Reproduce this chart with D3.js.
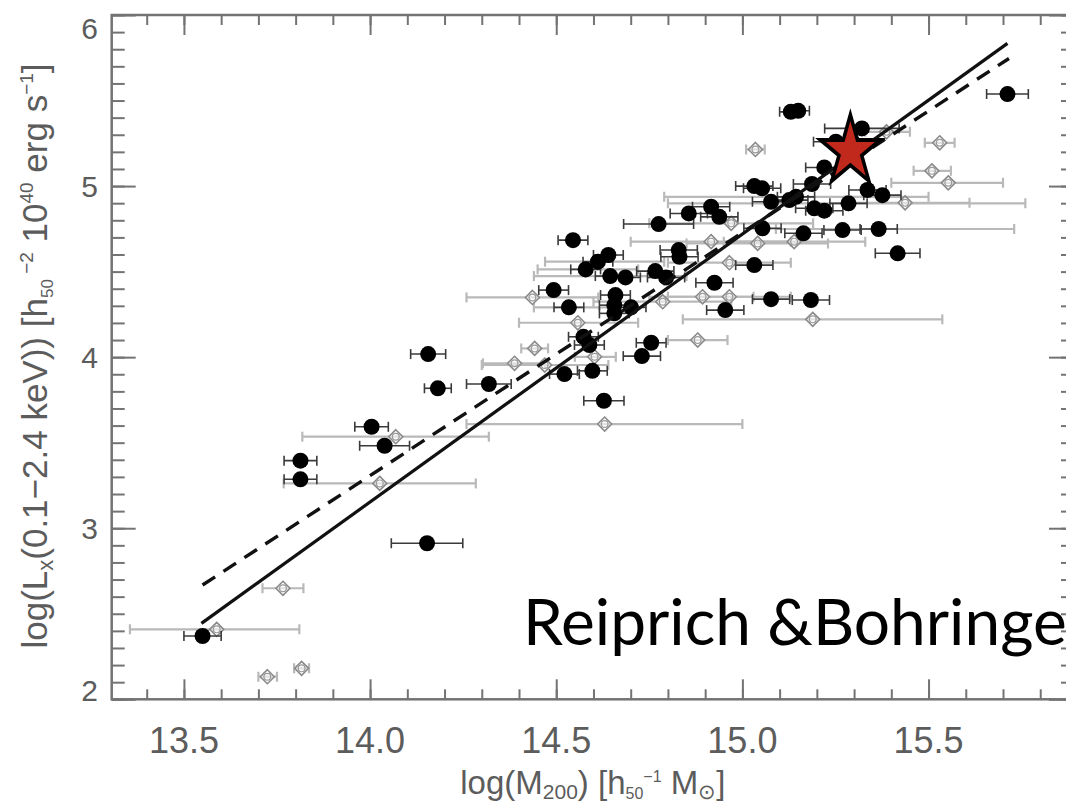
<!DOCTYPE html>
<html><head><meta charset="utf-8">
<script src="https://cdn.jsdelivr.net/npm/d3@7"></script>
<style>body{margin:0;background:#fff;overflow:hidden}svg{display:block}</style>
</head><body>
<svg id="c" width="1066" height="805"></svg>
<script>
// ---- data ----
const xTickValues = [13.5, 14.0, 14.5, 15.0, 15.5];
const yTickValues = [2, 3, 4, 5, 6];
// filled circles: [log M200, log Lx, half error in log M]
const filledSample = [
  [14.156,4.018,0.047],[14.182,3.818,0.036],[14.319,3.843,0.06],[14.004,3.593,0.045],
  [14.039,3.482,0.067],[13.813,3.395,0.044],[13.813,3.286,0.044],[14.153,2.912,0.096],
  [13.55,2.37,0.05],[14.545,4.684,0.04],[14.775,4.778,0.094],[14.856,4.84,0.05],
  [14.64,4.597,0.04],[14.612,4.558,0.04],[14.579,4.513,0.04],[14.645,4.474,0.04],
  [14.686,4.466,0.04],[14.766,4.503,0.05],[14.795,4.466,0.05],[14.829,4.626,0.05],
  [14.831,4.587,0.05],[14.493,4.392,0.04],[14.534,4.291,0.04],[14.659,4.363,0.04],
  [14.656,4.304,0.04],[14.656,4.256,0.04],[14.701,4.291,0.04],[14.573,4.119,0.04],
  [14.589,4.071,0.04],[14.755,4.084,0.04],[14.73,4.006,0.05],[14.522,3.901,0.04],
  [14.597,3.92,0.04],[14.628,3.745,0.054],[15.712,5.538,0.056],[15.13,5.434,0.03],
  [15.15,5.44,0.03],[15.321,5.337,0.1],[15.251,5.259,0.06],[15.22,5.109,0.05],
  [15.187,5.012,0.05],[15.032,5.0,0.05],[15.053,4.987,0.05],[15.336,4.977,0.05],
  [15.376,4.947,0.05],[15.077,4.908,0.05],[15.126,4.918,0.05],[15.144,4.937,0.05],
  [15.285,4.899,0.05],[15.193,4.87,0.05],[15.22,4.856,0.05],[14.916,4.879,0.05],
  [14.938,4.82,0.05],[15.054,4.753,0.05],[15.164,4.724,0.05],[15.269,4.743,0.05],
  [15.366,4.749,0.05],[15.417,4.607,0.06],[15.032,4.538,0.05],[14.925,4.435,0.05],
  [15.077,4.339,0.05],[15.184,4.334,0.05],[14.954,4.275,0.05]
];
// open diamonds: [log M200, log Lx, low M, high M]
const openSample = [
  [14.069,3.535,13.818,14.319],[14.026,3.262,13.768,14.284],[13.766,2.649,13.711,13.821],
  [13.588,2.409,13.355,13.81],[13.724,2.132,13.70,13.75],[13.816,2.181,13.796,13.836],
  [14.436,4.349,14.259,14.613],[14.558,4.201,14.40,14.72],[14.442,4.051,14.406,14.478],
  [14.388,3.964,14.303,14.47],[14.469,3.954,14.30,14.64],[14.603,4.002,14.55,14.66],
  [14.63,3.609,14.259,15.0],[14.786,4.324,14.60,14.97],[14.88,4.10,14.80,14.96],
  [15.035,5.214,15.01,15.06],[15.387,5.317,15.33,15.45],[15.53,5.253,15.49,15.57],
  [15.509,5.089,15.46,15.56],[15.553,5.019,15.40,15.70],[15.437,4.902,15.27,15.61],
  [14.97,4.782,14.75,15.19],[14.916,4.675,14.70,15.13],[15.041,4.665,14.85,15.23],
  [15.139,4.675,14.95,15.33],[14.965,4.552,14.80,15.13],[14.893,4.353,14.75,15.03],
  [14.965,4.353,14.80,15.13],[15.189,4.221,14.84,15.537],[14.612,4.558,14.47,14.79],
  [14.579,4.513,14.45,14.72],[14.645,4.474,14.44,14.85],[14.534,4.291,14.44,14.65],
  [15.144,4.937,14.79,15.50],[15.285,4.899,14.80,15.76],[15.366,4.749,15.09,15.73]
];
const fitSolid = [[13.547,2.444],[15.712,5.834]];
const fitDashed = [[13.55,2.668],[15.716,5.746]];
const clusterStar = [15.29, 5.204];
const annotation = "Reiprich &Bohringer";

// ---- layout ----
const svg = d3.select("#c");
const x = d3.scaleLinear().domain([13.306, 15.888]).range([111.7, 1073]);
const y = d3.scaleLinear().domain([2, 6]).range([699.3, 15]);
const axisCol = "#737373";
const textCol = "#5c5c5c";
const font = "'Liberation Sans', Arial, sans-serif";
const [x0, x1] = x.range(), [y0, y1] = y.range();

// frame + ticks
function styleAxis(g){ g.select(".domain").remove(); g.selectAll("line").attr("stroke", axisCol).attr("stroke-width", 2); g.selectAll("text").remove(); }
const xMinor = d3.range(134, 159).map(v => v/10);
const yMinor = d3.range(20, 61).map(v => v/10);
svg.append("g").attr("transform",`translate(0,${y0})`).call(d3.axisBottom(x).tickValues(xMinor).tickSize(-10)).call(styleAxis);
svg.append("g").attr("transform",`translate(0,${y0})`).call(d3.axisBottom(x).tickValues(xTickValues).tickSize(-20)).call(styleAxis);
svg.append("g").attr("transform",`translate(0,${y1})`).call(d3.axisTop(x).tickValues(xMinor).tickSize(-10)).call(styleAxis);
svg.append("g").attr("transform",`translate(0,${y1})`).call(d3.axisTop(x).tickValues(xTickValues).tickSize(-20)).call(styleAxis);
svg.append("g").attr("transform",`translate(${x0},0)`).call(d3.axisLeft(y).tickValues(yMinor).tickSize(-13)).call(styleAxis);
svg.append("g").attr("transform",`translate(${x0},0)`).call(d3.axisLeft(y).tickValues(yTickValues).tickSize(-24)).call(styleAxis);
svg.append("g").attr("transform",`translate(${x1},0)`).call(d3.axisRight(y).tickValues(yMinor).tickSize(-12)).call(styleAxis);
svg.append("g").attr("transform",`translate(${x1},0)`).call(d3.axisRight(y).tickValues(yTickValues).tickSize(-24)).call(styleAxis);
svg.append("rect").attr("x",x0).attr("y",y1).attr("width",x1-x0).attr("height",y0-y1)
  .attr("fill","none").attr("stroke",axisCol).attr("stroke-width",2.5);

// tick labels
svg.append("g").selectAll("text").data(xTickValues).join("text")
  .attr("x", d => x(d)).attr("y", 753).attr("text-anchor","middle")
  .attr("font-family",font).attr("font-size",36).attr("fill",textCol)
  .text(d => d.toFixed(1));
svg.append("g").selectAll("text").data(yTickValues).join("text")
  .attr("x", 98).attr("y", d => Math.min(Math.max(y(d), 28), 690)).attr("dy","0.36em").attr("text-anchor","end")
  .attr("font-family",font).attr("font-size",30).attr("fill",textCol)
  .text(d => d);

// axis titles
const xt = svg.append("text").attr("x", (x0+1066)/2 + 4).attr("y", 794).attr("text-anchor","middle")
  .attr("font-family",font).attr("font-size",33).attr("fill",textCol);
xt.append("tspan").text("log(M");
xt.append("tspan").attr("font-size",21).attr("dy",5).text("200");
xt.append("tspan").attr("dy",-5).text(")  [h");
xt.append("tspan").attr("font-size",16).attr("dy",5).text("50");
xt.append("tspan").attr("font-size",16).attr("dy",-17).text("−1");
xt.append("tspan").attr("dy",12).text("  M");
xt.append("tspan").attr("font-size",21).attr("dy",5).text("⊙");
xt.append("tspan").attr("dy",-5).text("]");

const yt = svg.append("text").attr("transform",`translate(47,356) rotate(-90)`).attr("text-anchor","middle")
  .attr("font-family",font).attr("font-size",35).attr("fill",textCol);
yt.append("tspan").text("log(L");
yt.append("tspan").attr("font-size",22).attr("dy",6).text("x");
yt.append("tspan").attr("dy",-6).text("(0.1−2.4 keV))  [h");
yt.append("tspan").attr("font-size",17).attr("dy",6).text("50");
yt.append("tspan").attr("font-size",19).attr("dy",-20).text(" −2");
yt.append("tspan").attr("dy",14).text(" 10");
yt.append("tspan").attr("font-size",19).attr("dy",-14).text("40");
yt.append("tspan").attr("dy",14).text(" erg s");
yt.append("tspan").attr("font-size",19).attr("dy",-14).text("−1");
yt.append("tspan").attr("dy",14).text("]");

// plot clip
svg.append("clipPath").attr("id","pc").append("rect").attr("x",x0).attr("y",y1).attr("width",x1-x0).attr("height",y0-y1);
const plot = svg.append("g").attr("clip-path","url(#pc)");

// open sample error bars and diamonds
const greyBar = "#b9b9b9";
const og = plot.append("g");
og.selectAll("line.bar").data(openSample).join("line").attr("class","bar")
  .attr("x1", d => x(d[2])).attr("x2", d => x(d[3])).attr("y1", d => y(d[1])).attr("y2", d => y(d[1]))
  .attr("stroke", greyBar).attr("stroke-width", 2.2);
og.selectAll("line.capl").data(openSample).join("line").attr("class","capl")
  .attr("x1", d => x(d[2])).attr("x2", d => x(d[2])).attr("y1", d => y(d[1])-5).attr("y2", d => y(d[1])+5)
  .attr("stroke", greyBar).attr("stroke-width", 2.2);
og.selectAll("line.capr").data(openSample).join("line").attr("class","capr")
  .attr("x1", d => x(d[3])).attr("x2", d => x(d[3])).attr("y1", d => y(d[1])-5).attr("y2", d => y(d[1])+5)
  .attr("stroke", greyBar).attr("stroke-width", 2.2);
og.selectAll("path").data(openSample).join("path")
  .attr("transform", d => `translate(${x(d[0])},${y(d[1])})`)
  .attr("d", "M0,-7L7,0L0,7L-7,0Z").attr("fill","rgba(255,255,255,0.55)").attr("stroke","#8a8a8a").attr("stroke-width",1.6);
og.selectAll("circle").data(openSample).join("circle")
  .attr("cx", d => x(d[0])).attr("cy", d => y(d[1])).attr("r", 3.4)
  .attr("fill","none").attr("stroke","#9a9a9a").attr("stroke-width",1.2);

// filled sample
const fg = plot.append("g");
const darkBar = "#3a3a3a";
fg.selectAll("line.bar").data(filledSample).join("line").attr("class","bar")
  .attr("x1", d => x(d[0]-d[2])).attr("x2", d => x(d[0]+d[2])).attr("y1", d => y(d[1])).attr("y2", d => y(d[1]))
  .attr("stroke", darkBar).attr("stroke-width", 1.6);
fg.selectAll("line.capl").data(filledSample).join("line").attr("class","capl")
  .attr("x1", d => x(d[0]-d[2])).attr("x2", d => x(d[0]-d[2])).attr("y1", d => y(d[1])-5).attr("y2", d => y(d[1])+5)
  .attr("stroke", darkBar).attr("stroke-width", 1.6);
fg.selectAll("line.capr").data(filledSample).join("line").attr("class","capr")
  .attr("x1", d => x(d[0]+d[2])).attr("x2", d => x(d[0]+d[2])).attr("y1", d => y(d[1])-5).attr("y2", d => y(d[1])+5)
  .attr("stroke", darkBar).attr("stroke-width", 1.6);
fg.selectAll("circle").data(filledSample).join("circle")
  .attr("cx", d => x(d[0])).attr("cy", d => y(d[1])).attr("r", 8).attr("fill","#000");

// fit lines
const line = d3.line().x(d => x(d[0])).y(d => y(d[1]));
plot.append("path").datum(fitSolid).attr("d", line).attr("fill","none").attr("stroke","#111").attr("stroke-width",3.2);
plot.append("path").datum(fitDashed).attr("d", line).attr("fill","none").attr("stroke","#111").attr("stroke-width",3.4).attr("stroke-dasharray","15 10");

// star
svg.append("path").attr("d", d3.symbol(d3.symbolStar, 1500)())
  .attr("transform", `translate(${x(clusterStar[0])},${y(clusterStar[1])}) scale(0.86,1)`)
  .attr("fill","#c0291b").attr("stroke","#000").attr("stroke-width",4).attr("stroke-linejoin","miter");

// annotation
svg.append("text").attr("x", 523).attr("y", 645).attr("font-family","Lato, 'Open Sans', sans-serif")
  .attr("font-size", 64).attr("fill","#000").text(annotation);
</script>
</body></html>
